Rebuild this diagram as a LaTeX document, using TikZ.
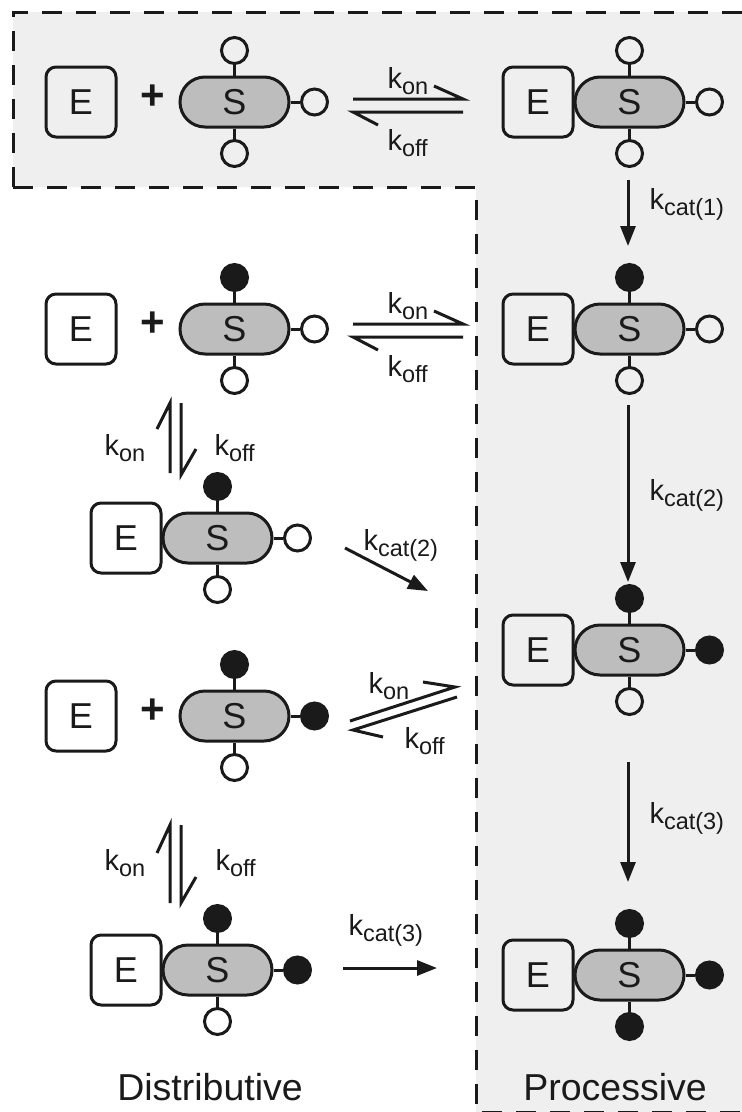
\documentclass[tikz,border=0pt]{standalone}
\usepackage{fontspec}
\setmainfont{Liberation Sans}
\usetikzlibrary{arrows.meta,calc}
\definecolor{bggray}{HTML}{EFEFEF}
\definecolor{pillgray}{HTML}{BDBDBD}
\definecolor{ink}{HTML}{1A1A1A}
\newcommand{\bigf}{\fontsize{36}{36}\selectfont}
\newcommand{\kr}[1]{{\fontsize{29}{29}\selectfont k}\raisebox{-6pt}{\fontsize{23.5}{23.5}\selectfont #1}}
\newcommand{\subst}[5]{%
  \node[spill] (#1) at (#2) {S};
  \node[#3] (#1-t) at ($(#1.north)+(0,-25)$) {};
  \node[#4] (#1-r) at ($(#1.east)+(24,0)$) {};
  \node[#5] (#1-b) at ($(#1.south)+(0,25)$) {};
  \draw (#1.north) -- (#1-t);
  \draw (#1.east) -- (#1-r);
  \draw (#1.south) -- (#1-b);
}
\begin{document}
\begin{tikzpicture}[x=1pt,y=-1pt,line width=3pt,color=ink,
  ebox/.style={draw,rounded corners=10pt,minimum width=70pt,minimum height=70pt,inner sep=0pt,font=\bigf},
  spill/.style={draw,fill=pillgray,rounded corners=25pt,minimum width=109pt,minimum height=50pt,inner sep=0pt,font=\bigf},
  oc/.style={draw,circle,minimum size=26pt,inner sep=0pt},
  fc/.style={oc,fill=ink},
  plus/.style={inner sep=0pt,font=\fontsize{42}{42}\selectfont\bfseries},
  lbl/.style={inner sep=0pt,anchor=base west},
  rx/.style={line width=3pt,line join=miter},
  arr/.style={line width=3pt,-{Triangle[length=20pt,width=15pt]}},
  dashpat/.style={line width=3pt,dash pattern=on 20pt off 14pt},
  big/.style={inner sep=0pt,anchor=base,font=\fontsize{37.5}{37.5}\selectfont}]
\useasboundingbox (0,0) rectangle (742,1112);
\fill[white] (0,0) rectangle (742,1112);
\fill[bggray] (13,12) -- (742,12) -- (742,1112) -- (476,1112) -- (476,187) -- (13,187) -- cycle;
\draw[dashpat] (13,187) -- (13,12) -- (745,12);
\draw[dashpat] (13,187) -- (476,187) -- (476,1112) -- (745,1112);

% row 1
\node[ebox] (e1) at (81,102) {E};
\node[plus] (p1) at (153,97) {+};
\subst{s1}{234.5,102}{oc}{oc}{oc}
\node[ebox] (e1r) at (538,102) {E};
\subst{s1r}{629.5,102}{oc}{oc}{oc}
\coordinate (q1a) at (353,99); \coordinate (q1b) at (463,99);
\coordinate (q1c) at (353,112); \coordinate (q1d) at (463,112);
\draw[rx] (q1a) -- (q1b) -- ++(-29,-13);
\draw[rx] (q1d) -- (q1c) -- ++(25,13);
\node[lbl] (l1on) at (386,88) {\kr{on}};
\node[lbl] (l1off) at (386,150) {\kr{off}};

% kcat(1)
\coordinate (k1s) at (628,180); \coordinate (k1e) at (628,246);
\draw[arr] (k1s) -- (k1e);
\node[lbl] (lk1) at (648,209) {\kr{cat(1)}};

% row 2
\node[ebox] (e2) at (81,329) {E};
\node[plus] (p2) at (153,324) {+};
\subst{s2}{234.5,329}{fc}{oc}{oc}
\node[ebox] (e2r) at (538,329) {E};
\subst{s2r}{629.5,329}{fc}{oc}{oc}
\coordinate (q2a) at (353,324); \coordinate (q2b) at (463,324);
\coordinate (q2c) at (353,337); \coordinate (q2d) at (463,337);
\draw[rx] (q2a) -- (q2b) -- ++(-29,-13);
\draw[rx] (q2d) -- (q2c) -- ++(25,13);
\node[lbl] (l2on) at (386,313) {\kr{on}};
\node[lbl] (l2off) at (386,376) {\kr{off}};

% vertical eq 1
\coordinate (v1a) at (170,473); \coordinate (v1b) at (170,403);
\coordinate (v1c) at (181,403); \coordinate (v1d) at (181,475);
\draw[rx] (v1a) -- (v1b) -- ++(-13,26);
\draw[rx] (v1c) -- (v1d) -- ++(15,-26);
\node[lbl] (lv1on) at (103,455) {\kr{on}};
\node[lbl] (lv1off) at (213,455) {\kr{off}};

% row 3
\node[ebox] (e3) at (126,538) {E};
\subst{s3}{217.5,538}{fc}{oc}{oc}
\coordinate (d2s) at (345,548); \coordinate (d2e) at (428,591);
\draw[arr] (d2s) -- (d2e);
\node[lbl] (ld2) at (362,550) {\kr{cat(2)}};

% kcat(2)
\coordinate (k2s) at (628,405); \coordinate (k2e) at (628,582);
\draw[arr] (k2s) -- (k2e);
\node[lbl] (lk2) at (648,500) {\kr{cat(2)}};

% row 4 right
\node[ebox] (e4r) at (538,650) {E};
\subst{s4r}{629.5,650}{fc}{fc}{oc}

% row 5
\node[ebox] (e5) at (81,716) {E};
\node[plus] (p5) at (153,711) {+};
\subst{s5}{234.5,716}{fc}{fc}{oc}
\coordinate (q5a) at (350,721); \coordinate (q5b) at (455,687);
\coordinate (q5c) at (353,730); \coordinate (q5d) at (457,697);
\draw[rx] (q5a) -- (q5b) -- (423,682);
\draw[rx] (q5d) -- (q5c) -- (383,737);
\node[lbl] (l5on) at (367,693) {\kr{on}};
\node[lbl] (l5off) at (403,748) {\kr{off}};

% kcat(3)
\coordinate (k3s) at (628,762); \coordinate (k3e) at (628,882);
\draw[arr] (k3s) -- (k3e);
\node[lbl] (lk3) at (648,823) {\kr{cat(3)}};

% vertical eq 2
\coordinate (v2a) at (170,903); \coordinate (v2b) at (170,825);
\coordinate (v2c) at (181,825); \coordinate (v2d) at (181,903);
\draw[rx] (v2a) -- (v2b) -- ++(-13,28);
\draw[rx] (v2c) -- (v2d) -- ++(15,-26);
\node[lbl] (lv2on) at (103,870) {\kr{on}};
\node[lbl] (lv2off) at (214,870) {\kr{off}};

% row 6
\node[ebox] (e6) at (126,970) {E};
\subst{s6}{217.5,970}{fc}{fc}{oc}
\coordinate (d3s) at (343,968); \coordinate (d3e) at (437,968);
\draw[arr] (d3s) -- (d3e);
\node[lbl] (ld3) at (347,935) {\kr{cat(3)}};
\node[ebox] (e6r) at (538,975) {E};
\subst{s6r}{629.5,975}{fc}{fc}{fc}

\node[big] (dist) at (210,1100) {Distributive};
\node[big] (proc) at (615,1100) {Processive};
\end{tikzpicture}
\end{document}
